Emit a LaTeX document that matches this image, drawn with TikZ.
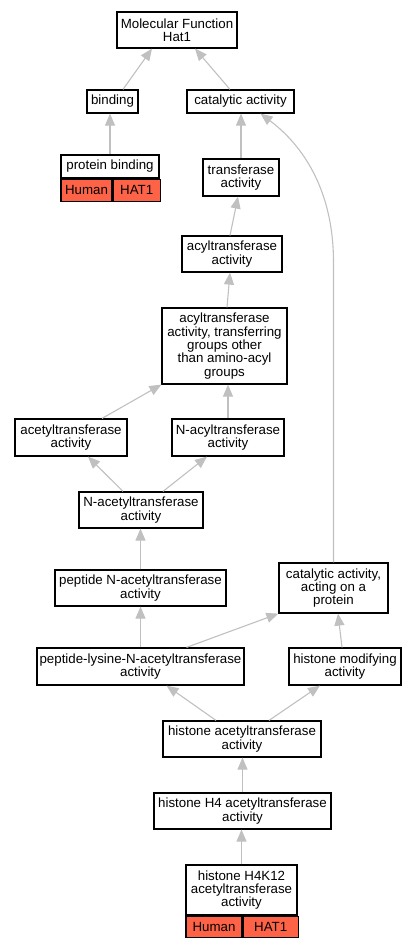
\documentclass[tikz,border=0pt]{standalone}
\usepackage{fontspec}
\setmainfont{Liberation Sans}
\usetikzlibrary{arrows.meta}

\definecolor{edgegray}{RGB}{192,192,192}
\definecolor{hitred}{RGB}{255,99,71}

\tikzset{
  term/.style={draw=black, line width=1.2bp, fill=white, align=center, inner sep=0pt,
    font=\fontsize{13.3bp}{13.3bp}\selectfont},
  hit/.style={term, fill=hitred, minimum height=22bp},
  isa/.style={draw=edgegray, line width=1.1bp, -{Triangle[length=12bp,width=10bp]}}
}

\begin{document}
\begin{tikzpicture}[x=1bp, y=-1bp]

\useasboundingbox (0,0) rectangle (417,947);

\node[term, minimum width=120bp, minimum height=36bp] (mf) at (177,30) {Molecular Function\\Hat1};
\node[term, minimum width=51bp, minimum height=23bp] (bind) at (112.5,101.5) {binding};
\node[term, minimum width=107bp, minimum height=23bp] (cat) at (240.5,101.5) {catalytic activity};

\node[term, minimum width=98bp, minimum height=23bp] (pbind) at (110,166.5) {protein binding};
\node[hit, minimum width=51bp, anchor=north west] (pbindsp) at (pbind.south west) {Human};
\node[hit, minimum width=47bp, anchor=north west] (pbindgene) at (pbindsp.north east) {HAT1};

\node[term, minimum width=76bp, minimum height=37bp] (trans) at (241,177.5) {transferase\\activity};
\node[term, minimum width=100bp, minimum height=36bp] (acyl) at (232,254) {acyltransferase\\activity};
\node[term, minimum width=125bp, minimum height=76bp] (acylgrp) at (224.5,346)
  {acyltransferase\\activity, transferring\\groups other\\than amino-acyl\\groups};
\node[term, minimum width=112bp, minimum height=37bp] (acet) at (71,437.5) {acetyltransferase\\activity};
\node[term, minimum width=112bp, minimum height=37bp] (nacyl) at (228,437.5) {N-acyltransferase\\activity};
\node[term, minimum width=124bp, minimum height=36bp] (nacet) at (141,510) {N-acetyltransferase\\activity};
\node[term, minimum width=171bp, minimum height=36bp] (pepnacet) at (140.5,588) {peptide N-acetyltransferase\\activity};
\node[term, minimum width=109bp, minimum height=50bp] (catprot) at (333.5,588) {catalytic activity,\\acting on a\\protein};
\node[term, minimum width=207bp, minimum height=37bp] (peplys) at (140.5,666.5) {peptide-lysine-N-acetyltransferase\\activity};
\node[term, minimum width=112bp, minimum height=37bp] (hmod) at (345,666.5) {histone modifying\\activity};
\node[term, minimum width=158bp, minimum height=36bp] (hacet) at (242,739) {histone acetyltransferase\\activity};
\node[term, minimum width=177bp, minimum height=36bp] (h4) at (242.5,811) {histone H4 acetyltransferase\\activity};

\node[term, minimum width=111bp, minimum height=50bp] (h4k12) at (241.5,890) {histone H4K12\\acetyltransferase\\activity};
\node[hit, minimum width=56bp, minimum height=21bp, anchor=north west] (h4k12sp) at (h4k12.south west) {Human};
\node[hit, minimum width=55bp, minimum height=21bp, anchor=north west] (h4k12gene) at (h4k12sp.north east) {HAT1};

% straight is_a edges
\foreach \a/\b in {pbind/bind, trans/cat, nacyl/acylgrp, pepnacet/nacet, peplys/pepnacet, h4/hacet, h4k12/h4} {
  \draw[isa] (\a.north) -- (\a.north |- \b.south);
}

\draw[isa] ([xshift=10.5bp]bind.north) -- ([xshift=-25bp]mf.south);
\draw[isa] ([xshift=-10.5bp]cat.north) -- ([xshift=18bp]mf.south);
\draw[isa] ([xshift=-2bp]acyl.north) -- ([xshift=-3bp]trans.south);
\draw[isa] ([xshift=2.5bp]acylgrp.north) -- ([xshift=-2bp]acyl.south);
\draw[isa] ([xshift=31bp]acet.north) -- (acylgrp.south west);
\draw[isa] ([xshift=-18bp]nacet.north) -- ([xshift=17bp]acet.south);
\draw[isa] ([xshift=22bp]nacet.north) -- ([xshift=-21bp]nacyl.south);
\draw[isa] ([xshift=46bp]peplys.north) -- (catprot.south west);
\draw[isa] ([xshift=-3bp]hmod.north) -- ([xshift=4.5bp]catprot.south);
\draw[isa] ([xshift=-26bp]hacet.north) -- ([xshift=26bp]peplys.south);
\draw[isa] ([xshift=27bp]hacet.north) -- ([xshift=-25bp]hmod.south);

% long edge up to catalytic activity
\draw[isa] (catprot.north) -- ++(0,-300) .. controls +(0,-75) and +(40,30) .. ([xshift=20bp]cat.south);

\end{tikzpicture}
\end{document}
